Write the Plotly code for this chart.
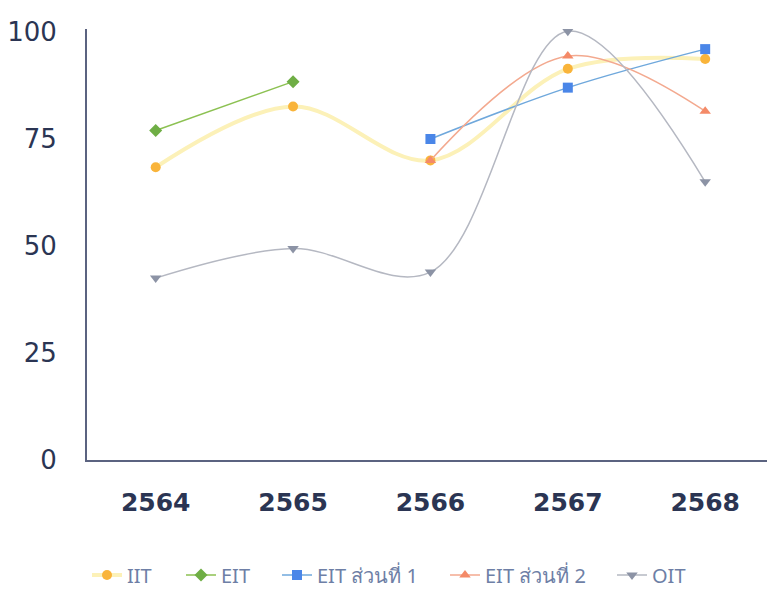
import plotly.graph_objects as go

years = ["2564", "2565", "2566", "2567", "2568"]
iit = [68.4, 82.6, 70.0, 91.4, 93.7]
eit = [77.0, 88.4, None, None, None]
eit_p1 = [None, None, 75.0, 87.0, 96.0]
eit_p2 = [None, None, 70.0, 94.4, 81.5]
oit = [42.5, 49.4, 43.9, 100.2, 65.0]
y_ticks = [0, 25, 50, 75, 100]

L, T, W, H = 87, 29, 767, 589
PW, PH = W - L, 460 - T

fig = go.Figure()

# legend marker x positions (pixels) in the reference
legend_px = [109, 203, 299, 467, 634]
legend_names = ["legend", "legend2", "legend3", "legend4", "legend5"]

def add(name, vals, lc, mc, sym, leg, lw=1.5, shape="spline", ms=10):
    fig.add_trace(go.Scatter(
        x=years, y=vals, name=name, mode="lines+markers",
        line=dict(color=lc, width=lw, shape=shape, smoothing=1.0),
        marker=dict(color=mc, symbol=sym, size=ms),
        connectgaps=False, legend=leg,
    ))

add("IIT", iit, "#fcf1b8", "#f9b43a", "circle", "legend", lw=4)
add("EIT", eit, "#8cc152", "#6fae45", "diamond", "legend2", lw=1.5, shape="linear")
add("EIT ส่วนที่ 1", eit_p1, "#6fa8dc", "#4a86e8", "square", "legend3", lw=1.5)
add("EIT ส่วนที่ 2", eit_p2, "#f3a98f", "#f48a68", "triangle-up", "legend4", lw=1.5)
add("OIT", oit, "#b5b8c2", "#8c93a5", "triangle-down", "legend5", lw=1.5)

legend_font = dict(size=20, color="#6e7fa6", family="Noto Sans, sans-serif")
leg_layout = {}
for nm, px in zip(legend_names, legend_px):
    leg_layout[nm] = dict(
        orientation="h", x=(px - 22 - L) / PW, y=(460 - 575) / PH,
        xanchor="left", yanchor="middle", font=legend_font,
        bgcolor="rgba(0,0,0,0)", borderwidth=0,
    )

fig.update_layout(
    width=W, height=H,
    margin=dict(l=L, r=0, t=T, b=H - 460, autoexpand=False),
    paper_bgcolor="white", plot_bgcolor="white",
    font=dict(family="DejaVu Sans, sans-serif", color="#2b3553"),
    showlegend=True,
    **leg_layout,
)
fig.update_xaxes(
    type="category", range=[-0.5, 4.45], automargin=False,
    showline=True, linecolor="#5b6380", linewidth=2,
    showgrid=False, zeroline=False,
    ticks="", ticklabelstandoff=19,
    tickfont=dict(size=25, color="#2b3553", family="DejaVu Sans, sans-serif", weight="bold"),
)
fig.update_yaxes(
    range=[0, 100.7], tickvals=y_ticks, automargin=False,
    showline=True, linecolor="#5b6380", linewidth=2,
    showgrid=False, zeroline=False,
    ticks="", ticklabelstandoff=23,
    tickfont=dict(size=26, color="#2b3553", family="DejaVu Sans, sans-serif"),
)

fig.write_html("out.html", config={"displayModeBar": False},
               post_script="document.body.style.margin='0';")
